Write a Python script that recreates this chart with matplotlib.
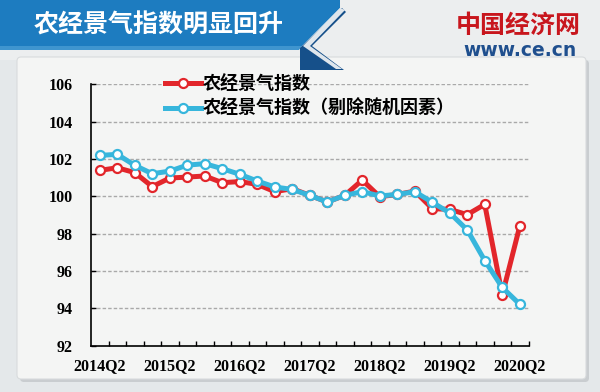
import numpy as np
import matplotlib.pyplot as plt
from matplotlib.patches import Polygon, FancyBboxPatch, Rectangle

plt.rcParams['font.family'] = ['Noto Sans CJK SC', 'DejaVu Sans']

# 季度（类目轴）
quarters = ['2014Q2', '2014Q3', '2014Q4', '2015Q1',
            '2015Q2', '2015Q3', '2015Q4', '2016Q1',
            '2016Q2', '2016Q3', '2016Q4', '2017Q1',
            '2017Q2', '2017Q3', '2017Q4', '2018Q1',
            '2018Q2', '2018Q3', '2018Q4', '2019Q1',
            '2019Q2', '2019Q3', '2019Q4', '2020Q1',
            '2020Q2']
shown_labels = ['2014Q2', '2015Q2', '2016Q2', '2017Q2', '2018Q2', '2019Q2', '2020Q2']

index_raw = [101.39, 101.53, 101.27, 100.52, 100.98, 101.03, 101.09, 100.73,
             100.79, 100.64, 100.25, 100.41, 100.05, 99.70, 100.05, 100.87,
             99.98, 100.10, 100.28, 99.34, 99.30, 99.02, 99.57, 94.71, 98.40]
index_adj = [102.19, 102.25, 101.66, 101.21, 101.35, 101.67, 101.75, 101.48,
             101.18, 100.82, 100.50, 100.37, 100.05, 99.70, 100.05, 100.25,
             100.02, 100.10, 100.25, 99.68, 99.11, 98.20, 96.56, 95.12, 94.22]
yticks = [92, 94, 96, 98, 100, 102, 104, 106]

W, H = 600, 392
fig = plt.figure(figsize=(W / 100, H / 100), dpi=100)
fig.patch.set_facecolor('#e4e8ea')

# 背景层，像素坐标
bg = fig.add_axes([0, 0, 1, 1], zorder=-5)
bg.set_xlim(0, W)
bg.set_ylim(H, 0)
bg.axis('off')
bg.add_patch(Rectangle((0, 0), W, 60, fc='#eceeef', ec='none'))
# 面板阴影与面板
bg.add_patch(FancyBboxPatch((20, 60), 569, 322, boxstyle='round,pad=0,rounding_size=4',
                            fc='#c9cdd0', ec='none'))
bg.add_patch(FancyBboxPatch((17, 57), 569, 322, boxstyle='round,pad=0,rounding_size=4',
                            fc='#f4f5f4', ec='#d8dbdd', lw=0.8))
# 标题横幅
bg.add_patch(Polygon([(0, 0), (340, 0), (340, 8), (302, 46), (0, 46)],
                     closed=True, fc='#1d7cc0', ec='none'))
bg.add_patch(Polygon([(0, 46), (302, 46), (299, 50), (0, 50)],
                     closed=True, fc='#3f95cf', ec='none'))
bg.add_patch(Polygon([(342, 8), (346, 12), (312, 46), (344, 70), (300, 70), (300, 48)],
                     closed=True, fc='#16508a', ec='none'))
bg.add_patch(Polygon([(340, 8), (345, 10), (310, 46), (342, 69), (336, 69), (303, 46)],
                     closed=True, fc='#dfe6ec', ec='none'))
bg.text(34, 25, '农经景气指数明显回升', color='white', fontsize=18, fontweight='bold',
        va='center', ha='left')
bg.text(518, 26, '中国经济网', color='#c8161d', fontsize=18, fontweight='bold',
        va='center', ha='center')
bg.text(520, 50, 'www.ce.cn', color='#1f4f8e', fontsize=13.5, fontweight='bold',
        va='center', ha='center', family='DejaVu Sans')

# 主图
x = np.arange(len(quarters))
ax = fig.add_axes([91 / W, 1 - 345.7 / H, 437.5 / W, 261.4 / H])
ax.set_facecolor('none')
ax.set_xlim(-0.5, len(quarters) - 0.5)
ax.set_ylim(92, 106)

for v in yticks[1:]:
    ax.axhline(v, color='#a9a9a9', lw=1, ls=(0, (2.5, 1.5)), zorder=1)

ax.plot(x, index_raw, color='#e2262b', lw=3.6, marker='o', ms=6.5,
        mfc='white', mec='#e2262b', mew=1.6, zorder=3, label='农经景气指数')
ax.plot(x, index_adj, color='#37b6dc', lw=3.6, marker='o', ms=6.5,
        mfc='white', mec='#37b6dc', mew=1.6, zorder=4, label='农经景气指数（剔除随机因素）')

for s in ['top', 'right']:
    ax.spines[s].set_visible(False)
for s in ['left', 'bottom']:
    ax.spines[s].set_linewidth(1.2)
    ax.spines[s].set_color('black')

num_font = dict(family='Liberation Serif', weight='bold', size=11.5)
ax.set_yticks(yticks)
ax.set_yticklabels([str(v) for v in yticks], fontdict=num_font)
ax.tick_params(axis='y', direction='in', length=3.5, width=1, pad=13)

ax.set_xticks([quarters.index(q) for q in shown_labels])
ax.set_xticklabels(shown_labels, fontdict=num_font)
ax.set_xticks(np.arange(len(quarters)) + 0.5, minor=True)
ax.tick_params(axis='x', which='major', length=0, pad=9)
ax.tick_params(axis='x', which='minor', direction='in', length=3.5, width=1)

ax.legend(loc='upper left', bbox_to_anchor=(0.168, 1.04), frameon=False,
          prop=dict(family=['Noto Sans CJK SC', 'DejaVu Sans'], weight='bold', size=13),
          handlelength=2.0, handletextpad=0.1, labelspacing=0.35,
          borderpad=0, borderaxespad=0, numpoints=1)

fig.savefig('out.png', dpi=100, facecolor=fig.get_facecolor())
